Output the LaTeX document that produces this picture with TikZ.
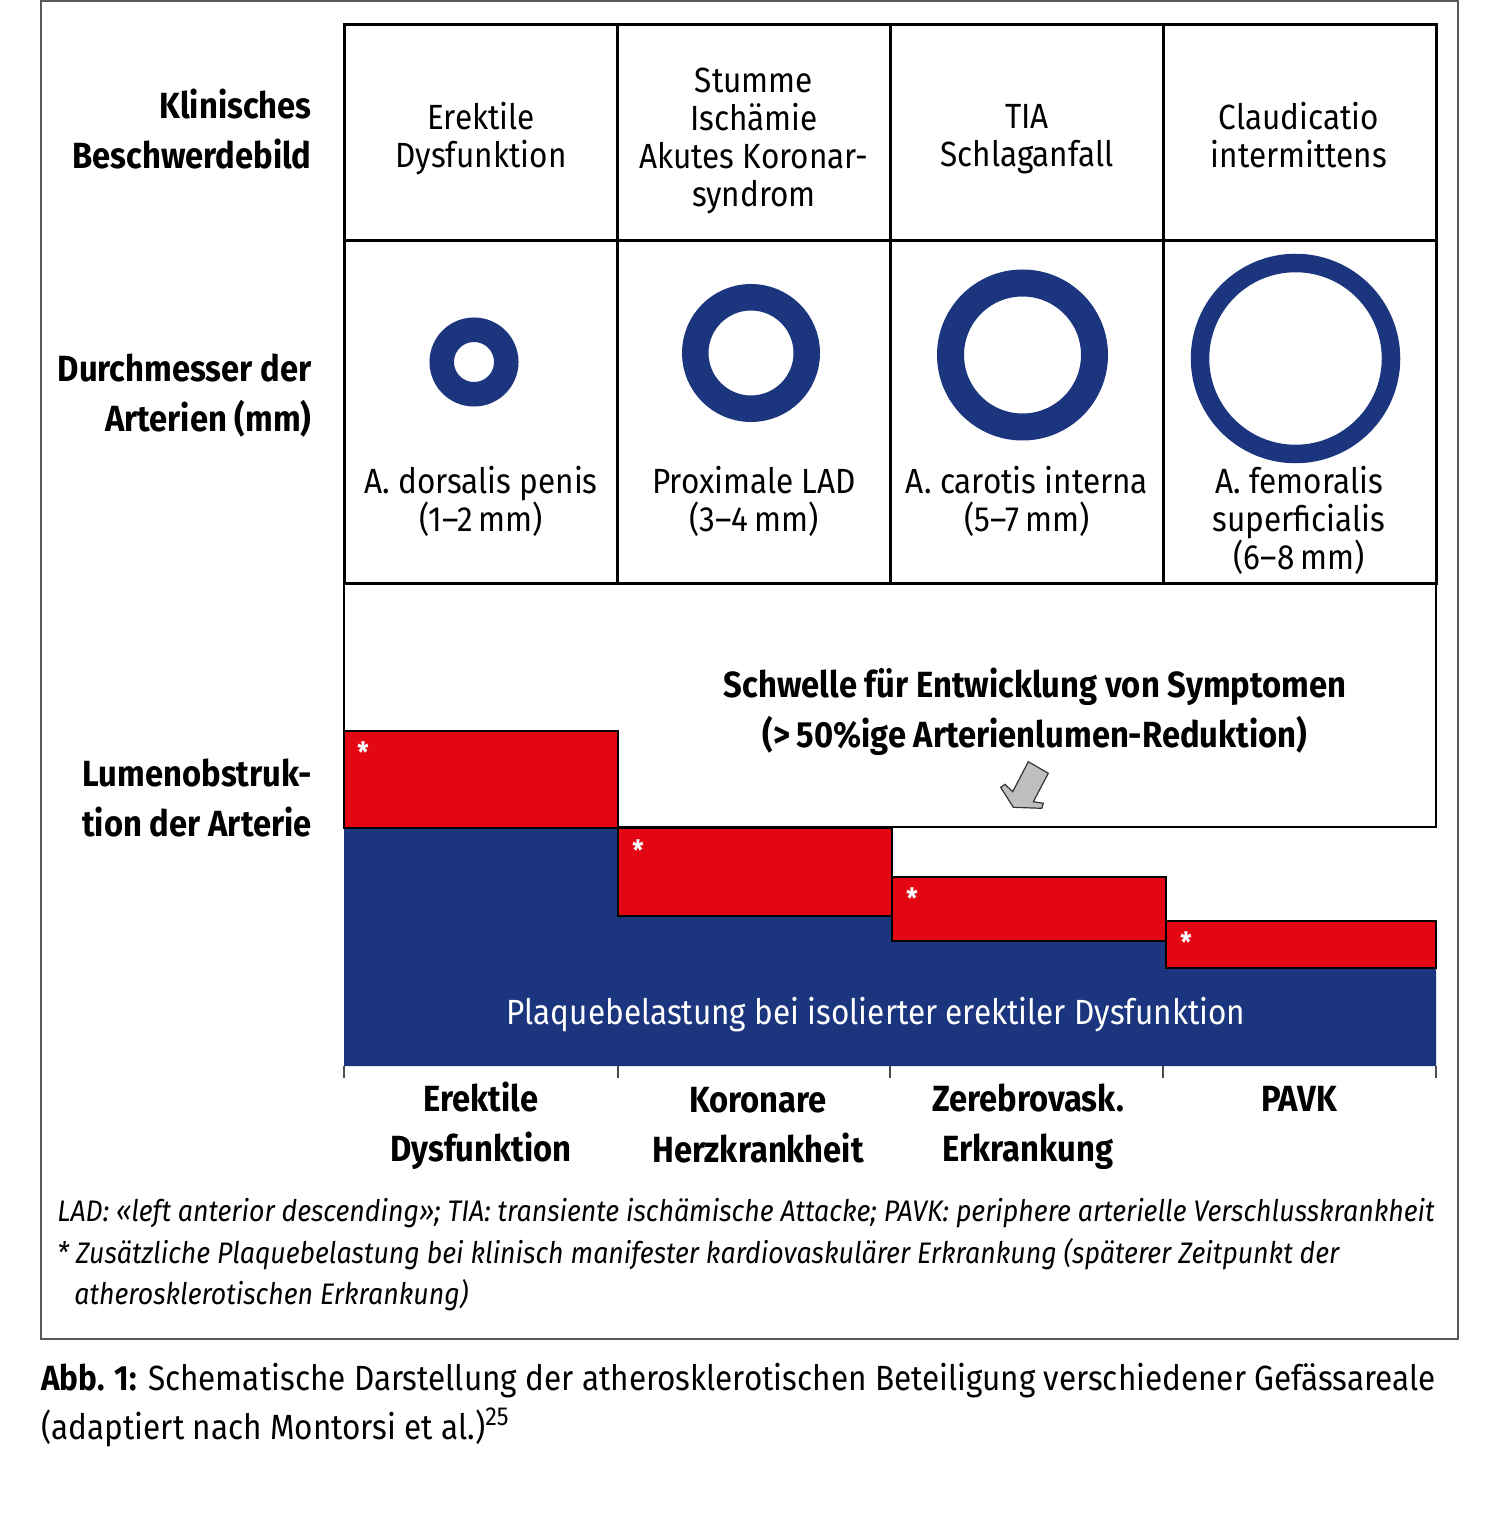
\documentclass[tikz,border=0pt]{standalone}
\usepackage{fontspec}
\setmainfont{Fira Sans}[FakeStretch=0.9]
\usetikzlibrary{positioning}

\definecolor{arteryblue}{RGB}{27,54,126}
\definecolor{plaquered}{RGB}{227,7,19}

\tikzset{
	grid/.style={line width=1.5pt, black},
	celltext/.style={align=center, inner sep=0pt, font=\fontsize{17.5}{19}\selectfont},
	boldtext/.style={align=center, inner sep=0pt, font=\bfseries\fontsize{18.2}{25}\selectfont},
	rowlabel/.style={boldtext, anchor=east, align=right},
	ring/.style={circle, draw=arteryblue, inner sep=0pt},
	redbox/.style={fill=plaquered, draw=black, line width=1pt},
	star/.style={text=white, inner sep=0pt, font=\bfseries\fontsize{14}{14}\selectfont},
	notetext/.style={anchor=mid west, inner sep=0pt, font=\itshape\fontsize{14.85}{21}\selectfont},
	captext/.style={anchor=mid west, inner sep=0pt, font=\fontsize{17.5}{24}\selectfont}
}

\begin{document}
\begin{tikzpicture}[x=0.5pt, y=-0.5pt]
	\useasboundingbox (0,0) rectangle (1486,1534);
	\draw[black!65, line width=1pt] (41,1) rectangle (1458,1339);
	
	% table
	\draw[grid] (344,25) rectangle (1436,583);
	\draw[grid] (344,241) -- (1436,241);
	\foreach \x in {617,890,1163}
		\draw[grid] (\x,25) -- (\x,583);
	
	\node[rowlabel] (l1) at (312,129) {Klinisches\\Beschwerdebild};
	\node[rowlabel] (l2) at (312,396) {Durchmesser der\\Arterien (mm)};
	\node[rowlabel] (l3) at (312,798) {Lumenobstruk-\\tion der Arterie};
	
	\node[celltext] (h1) at (481,139) {Erektile\\Dysfunktion};
	\node[celltext] (h2) at (754,141) {Stumme\\Ischämie\\Akutes Koronar-\\syndrom};
	\node[celltext] (h3) at (1027,139) {TIA\\Schlaganfall};
	\node[celltext] (h4) at (1299,135) {Claudicatio\\intermittens};
	
	\node[ring, line width=12.25pt, minimum size=32.25pt] (r1) at (474,362) {};
	\node[ring, line width=13.25pt, minimum size=55.75pt] (r2) at (751,353) {};
	\node[ring, line width=13.5pt, minimum size=72pt] (r3) at (1022.5,355) {};
	\node[ring, line width=9.25pt, minimum size=95.5pt] (r4) at (1295.5,358.5) {};
	
	\node[celltext] (a1) at (481,501) {A. dorsalis penis\\(1--2\,mm)};
	\node[celltext] (a2) at (754,501) {Proximale LAD\\(3--4\,mm)};
	\node[celltext] (a3) at (1027,501) {A. carotis interna\\(5--7\,mm)};
	\node[celltext] (a4) at (1299,520) {A. femoralis\\superficialis\\(6--8\,mm)};
	
	% lumen obstruction
	\draw[line width=0.8pt] (344,583) rectangle (1436,827);
	\fill[arteryblue] (344,828) -| (618,916) -| (892,941) -| (1166,968) -| (1436,1066) -- (344,1066) -- cycle;
	\draw[redbox] (344,731) rectangle (618,828);
	\draw[redbox] (618,828) rectangle (892,916);
	\draw[redbox] (892,877) rectangle (1166,941);
	\draw[redbox] (1166,921) rectangle (1436,968);
	\node[star] (s1) at (363,752) {*};
	\node[star] (s2) at (638,850) {*};
	\node[star] (s3) at (912,898) {*};
	\node[star] (s4) at (1186,942) {*};
	\foreach \x in {344,618,890,1163,1436}
		\draw[black!70, line width=0.6pt] (\x,1066) -- (\x,1078);
	
	\node[boldtext] (thr) at (1035,712) {Schwelle für Entwicklung von Symptomen\\(>\,50\%ige Arterienlumen-Reduktion)};
	\filldraw[fill=black!25, draw=black!80, line width=0.6pt] (1028.3,761.7) -- (1048.3,773.3) -- (1033.3,801.7) -- (1043.3,803.3) -- (1041.7,808.3) -- (1013.3,807.3) -- (1000.7,787.3) -- (1005,784.3) -- (1012.7,791.7) -- cycle;
	\node[celltext, text=white] (pl) at (876,1015) {Plaquebelastung bei isolierter erektiler Dysfunktion};
	
	\node[boldtext] (b1) at (481,1126) {Erektile\\Dysfunktion};
	\node[boldtext] (b2) at (758,1125) {Koronare\\Herzkrankheit};
	\node[boldtext] (b3) at (1028,1127) {Zerebrovask.\\Erkrankung};
	\node[boldtext] (b4) at (1299,1099) {PAVK};
	
	% notes and caption
	\node[notetext] (n1) at (57,1216) {LAD: «left anterior descending»; TIA: transiente ischämische Attacke; PAVK: periphere arterielle Verschlusskrankheit};
	\node[notetext] (n2) at (57,1258) {* Zusätzliche Plaquebelastung bei klinisch manifester kardiovaskulärer Erkrankung (späterer Zeitpunkt der};
	\node[notetext] (n3) at (74,1299) {atherosklerotischen Erkrankung)};
	\node[captext] (c1) at (41,1385) {\textbf{Abb. 1:} Schematische Darstellung der atherosklerotischen Beteiligung verschiedener Gefässareale};
	\node[captext] (c2) at (41,1434) {(adaptiert nach Montorsi et al.)\raisebox{0.75ex}{\fontsize{13}{13}\selectfont 25}};
\end{tikzpicture}
\end{document}
